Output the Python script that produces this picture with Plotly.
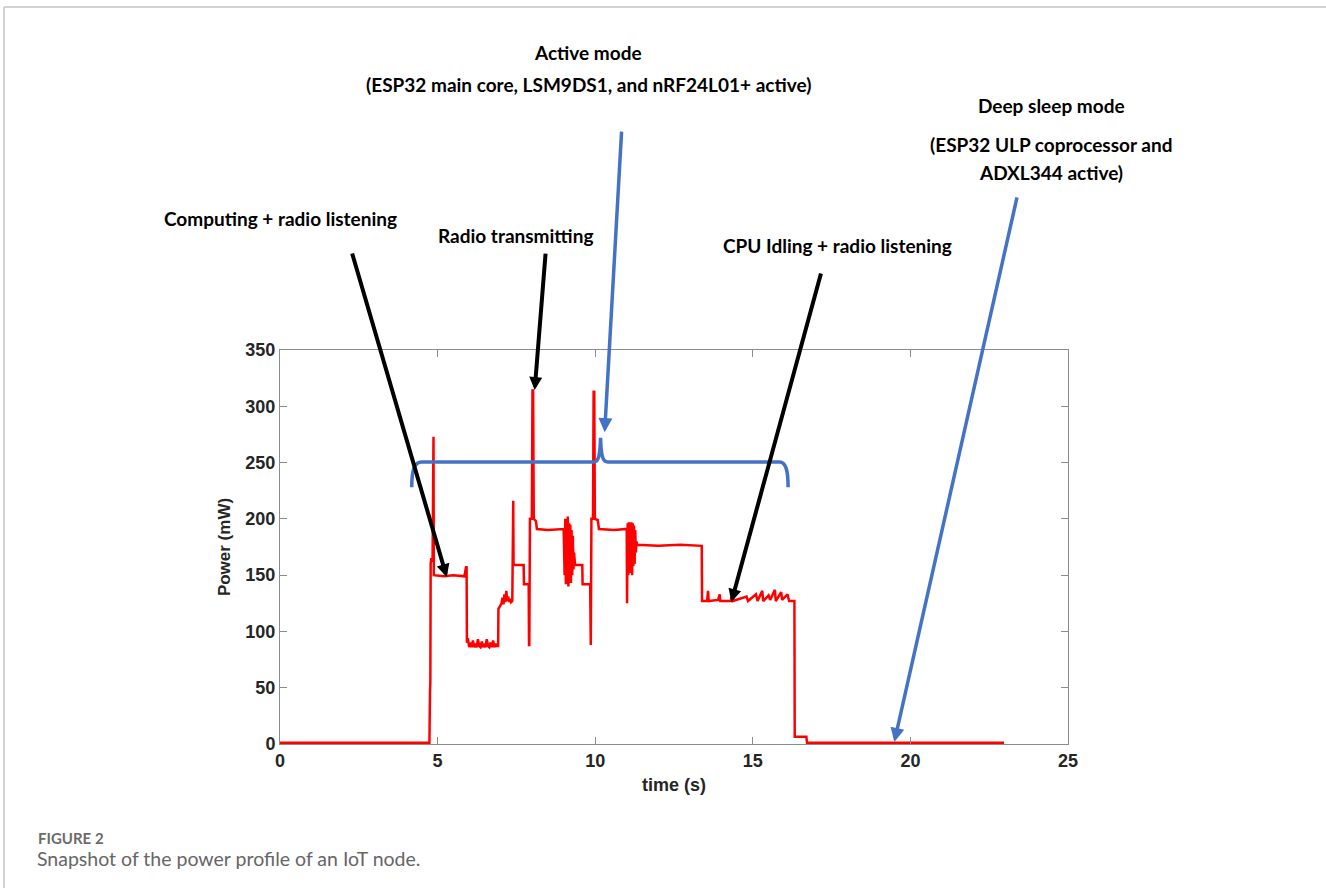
import plotly.graph_objects as go

# Measured power trace of the node (time in s, power in mW)
t_s = [
    0.00, 4.74, 4.76, 4.77, 4.78, 4.80, 4.84, 4.85, 4.87, 4.88,
    5.20, 5.50, 5.85, 5.90, 5.92, 5.93,
    5.96, 6.00, 6.04, 6.08, 6.12, 6.16, 6.20, 6.24, 6.28, 6.32, 6.36, 6.40,
    6.44, 6.48, 6.52, 6.56, 6.60, 6.64, 6.68, 6.72, 6.76, 6.80, 6.84, 6.88, 6.92,
    6.93, 6.98, 7.03, 7.06, 7.09, 7.12, 7.15, 7.18, 7.21, 7.24, 7.27, 7.30, 7.33, 7.37,
    7.38, 7.40, 7.41, 7.73, 7.74, 7.89, 7.90, 7.91, 7.93, 7.99, 8.01, 8.03, 8.05,
    8.12, 8.15, 8.50, 9.00,
    9.03, 9.05, 9.07, 9.09, 9.11, 9.13, 9.15, 9.17, 9.19, 9.21, 9.23, 9.25, 9.27,
    9.29, 9.31, 9.33, 9.35,
    9.36, 9.59, 9.60, 9.84, 9.85, 9.86, 9.88, 9.93, 9.95, 9.97, 9.99, 10.08, 10.12,
    10.60, 11.00,
    11.01, 11.03, 11.05, 11.07, 11.09, 11.11, 11.13, 11.15, 11.17, 11.19, 11.21,
    11.23, 11.25, 11.27, 11.29, 11.31, 11.33,
    12.00, 12.70, 13.38, 13.39,
    13.55, 13.58, 13.60, 13.90, 13.95, 13.97, 14.30, 14.35, 14.37, 14.80, 14.85,
    15.10, 15.15, 15.30, 15.33, 15.50, 15.55, 15.70, 15.73, 15.90, 15.93, 16.10,
    16.15, 16.32,
    16.33, 16.70, 16.72, 22.97,
]
p_mw = [
    1.0, 1.0, 48, 55, 160, 165, 162, 273, 273, 150,
    149, 150, 149, 157, 157, 90,
    94, 86, 90, 86, 92, 86, 89, 86, 93, 87, 86, 91,
    86, 89, 86, 93, 87, 86, 90, 86, 92, 86, 89, 87, 87,
    120, 122, 125, 130, 124, 133, 126, 136, 127, 131, 126, 129, 126, 127,
    216, 216, 159, 159, 142, 142, 88, 88, 200, 200, 314, 314, 200,
    198, 191, 190, 191,
    150, 200, 142, 198, 145, 202, 140, 196, 148, 195, 143, 190, 150,
    185, 155, 170, 160,
    159, 159, 142, 142, 88, 88, 200, 200, 313, 313, 200, 199, 191,
    190, 191,
    125, 196, 150, 197, 152, 195, 155, 197, 150, 196, 158,
    194, 160, 190, 170, 180, 177,
    176, 177, 176, 127,
    127, 136, 127, 128, 133, 127, 127, 134, 127, 131, 127,
    133, 127, 136, 127, 132, 128, 137, 127, 135, 128, 133,
    127, 127,
    6.5, 6.5, 1.0, 1.0,
]

# Plot frame geometry in pixels
W, H = 1326, 888
L, R, T, B = 280, 1068, 350, 744
X_MAX, Y_MAX = 25, 350

BLUE = "#4472C4"
TXT = "#262626"
AX = "#8c8c8c"
ANN_FONT = "Lato"


def px(x):
    return (x - L) / (R - L)


def py(y):
    return (B - y) / (B - T)


fig = go.Figure()
fig.add_trace(go.Scatter(
    x=t_s, y=p_mw, mode="lines",
    line=dict(color="#ff0000", width=2.5),
    showlegend=False, hoverinfo="skip",
))

annotations = []

# Labels above the plot
labels = [
    ("Active mode", 588, 52),
    ("(ESP32 main core, LSM9DS1, and nRF24L01+ active)", 588, 84),
    ("Deep sleep mode", 1051, 105),
    ("(ESP32 ULP coprocessor and", 1051, 145),
    ("ADXL344 active)", 1051, 172),
    ("Computing + radio listening", 280, 218),
    ("Radio transmitting", 515, 235),
    ("CPU Idling + radio listening", 837, 245),
]
for text, x, y in labels:
    annotations.append(dict(
        text=text, xref="paper", yref="paper", x=px(x), y=py(y),
        xanchor="center", yanchor="middle", showarrow=False,
        font=dict(family=ANN_FONT, size=19, color="#000000", weight="bold"),
    ))

# Pointer arrows: head in data units, tail offset in pixels
arrows = [
    (5.29, 148.3, -95, -325, "#000000", 4.0, 0.65),
    (8.08, 314.4, 11, -138, "#000000", 4.0, 0.65),
    (14.32, 126.1, 90, -330, "#000000", 4.0, 0.65),
    (10.30, 277.0, 17, -302, BLUE, 3.5, 0.8),
    (19.49, 1.8, 123, -546, BLUE, 3.5, 0.8),
]
for x, y, ax, ay, col, w, s in arrows:
    annotations.append(dict(
        text="", xref="x", yref="y", x=x, y=y, ax=ax, ay=ay,
        showarrow=True, arrowhead=2, arrowsize=s, arrowwidth=w,
        arrowcolor=col, standoff=0, startstandoff=0,
    ))

# Caption
annotations.append(dict(
    text="FIGURE 2", xref="paper", yref="paper", x=px(36), y=py(838),
    xanchor="left", yanchor="middle", showarrow=False,
    font=dict(family="Lato", size=15, color="#6b6b6b", weight="bold"),
))
annotations.append(dict(
    text="Snapshot of the power profile of an IoT node.", xref="paper", yref="paper",
    x=px(35), y=py(858), xanchor="left", yanchor="middle", showarrow=False,
    font=dict(family="Lato", size=19.5, color="#666666"),
))

shapes = [
    # brace spanning the active-mode interval
    dict(type="path", xref="x", yref="y",
         path=("M 4.18,228 C 4.18,243 4.25,250.5 4.5,250.5 L 9.95,250.5 "
               "C 10.1,250.5 10.15,255 10.17,272 C 10.19,255 10.24,250.5 10.4,250.5 "
               "L 15.85,250.5 C 16.05,250.5 16.12,243 16.12,228"),
         line=dict(color=BLUE, width=3.5)),
    # page frame lines
    dict(type="line", xref="paper", yref="paper", x0=px(4), x1=px(W), y0=py(7), y1=py(7),
         line=dict(color="#c4c4c4", width=1.5)),
    dict(type="line", xref="paper", yref="paper", x0=px(4), x1=px(4), y0=py(7), y1=py(H),
         line=dict(color="#c4c4c4", width=1.5)),
]

axis_common = dict(
    showline=True, linecolor=AX, linewidth=1, mirror="allticks",
    ticks="inside", ticklen=7, tickcolor=AX, tickwidth=1,
    showgrid=False, zeroline=False,
    tickfont=dict(family="Liberation Sans", size=18, color=TXT, weight="bold"),
)

fig.update_layout(
    width=W, height=H,
    margin=dict(l=L, r=W - R, t=T, b=H - B, pad=0),
    paper_bgcolor="white", plot_bgcolor="white",
    xaxis=dict(range=[0, X_MAX], dtick=5, tick0=0,
               title=dict(text="time (s)", standoff=8,
                          font=dict(family="Liberation Sans", size=18, color=TXT, weight="bold")),
               **axis_common),
    yaxis=dict(range=[0, Y_MAX], dtick=50, tick0=0,
               title=dict(text="Power (mW)", standoff=10,
                          font=dict(family="Liberation Sans", size=17, color=TXT, weight="bold")),
               **axis_common),
    annotations=annotations,
    shapes=shapes,
)

fig.write_html("out.html")
